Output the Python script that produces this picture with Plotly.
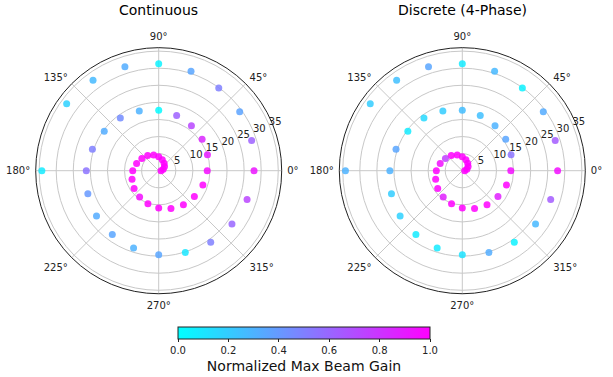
import plotly.graph_objects as go

# spiral positions (angle in degrees, radius) shared by both panels
theta = [0, 18, 36, 54, 72, 90, 108, 126, 144, 162,
         180, 198, 216, 234, 252, 270, 288, 306, 324, 342,
         360, 378, 396, 414, 432, 450, 468, 486, 504, 522,
         540, 558, 576, 594, 612, 630, 648, 666, 684, 702,
         720, 738, 756, 774, 792, 810, 828, 846, 864, 900]
radius = [0.7, 1.4, 2.1, 2.7, 3.4, 4.1, 4.8, 5.5, 6.1, 6.8,
          7.6, 8.2, 8.9, 9.5, 10.2, 10.9, 11.6, 12.3, 12.9, 13.6,
          14.2, 15.0, 15.7, 16.3, 17.0, 17.7, 18.4, 19.1, 19.7, 20.4,
          21.2, 21.8, 22.5, 23.1, 23.8, 24.6, 25.2, 25.9, 26.5, 27.2,
          27.9, 28.6, 29.3, 29.9, 30.6, 31.3, 32.0, 32.7, 33.3, 34.2]

gain_continuous = [1.0, 1.0, 1.0, 1.0, 1.0, 1.0, 1.0, 1.0, 1.0, 1.0,
                   1.0, 1.0, 1.0, 0.95, 1.0, 1.0, 1.0, 1.0, 1.0, 1.0,
                   0.96, 0.9, 0.85, 0.72, 0.62, 0.02, 0.3, 0.45, 0.32, 0.5,
                   0.55, 0.4, 0.33, 0.35, 0.3, 0.35, 0.1, 0.5, 0.6, 0.73,
                   0.92, 0.62, 0.36, 0.5, 0.35, 0.05, 0.32, 0.27, 0.18, 0.08]
gain_discrete = [1.0, 1.0, 1.0, 1.0, 1.0, 1.0, 1.0, 1.0, 0.75, 0.95,
                 1.0, 1.0, 1.0, 0.88, 1.0, 1.0, 1.0, 1.0, 0.88, 1.0,
                 0.96, 0.55, 0.35, 0.3, 0.25, 0.26, 0.2, 0.15, 0.08, 0.35,
                 0.3, 0.2, 0.18, 0.08, 0.08, 0.11, 0.32, 0.05, 0.28, 0.64,
                 0.95, 0.64, 0.33, 0.05, 0.28, 0.08, 0.35, 0.25, 0.2, 0.3]

titles = ["Continuous", "Discrete (4-Phase)"]
r_ticks = [5, 10, 15, 20, 25, 30, 35]
ang_ticks = [0, 45, 90, 135, 180, 225, 270, 315]
ang_labels = [f"{a}°" for a in ang_ticks]
cbar_ticks = [0.0, 0.2, 0.4, 0.6, 0.8, 1.0]

W, H = 613, 377
FONT = "DejaVu Sans"
SIZE = 246
CY = 170.7
centers = [158.7, 462.3]
R_MAX = 36

fig = go.Figure()
for i, g in enumerate([gain_continuous, gain_discrete]):
    fig.add_trace(go.Scatterpolar(
        r=radius, theta=theta, mode="markers",
        subplot="polar" if i == 0 else "polar2",
        marker=dict(size=7, color=g, coloraxis="coloraxis",
                    opacity=0.85, line=dict(width=0)),
        showlegend=False, hoverinfo="skip"))
# empty traces for the label-only overlay subplots (radial tick labels)
for sp in ["polar3", "polar4"]:
    fig.add_trace(go.Scatterpolar(r=[], theta=[], subplot=sp, showlegend=False,
                                  hoverinfo="skip", mode="markers"))

def dom(cx, cy):
    return dict(x=[(cx - SIZE / 2) / W, (cx + SIZE / 2) / W],
                y=[1 - (cy + SIZE / 2) / H, 1 - (cy - SIZE / 2) / H])

def polar_layout(cx):
    return dict(
        domain=dom(cx, CY),
        bgcolor="white",
        radialaxis=dict(range=[0, R_MAX], tickmode="array", tickvals=r_ticks,
                        showline=False, ticks="", showticklabels=False,
                        gridcolor="#c8c8c8", gridwidth=1, angle=22.5),
        angularaxis=dict(rotation=0, direction="counterclockwise",
                         tickmode="array", tickvals=ang_ticks, ticktext=ang_labels,
                         ticks="outside", ticklen=3, tickcolor="rgba(0,0,0,0)",
                         showline=True, linecolor="#222", linewidth=1,
                         gridcolor="#c8c8c8", gridwidth=1,
                         tickfont=dict(family=FONT, size=10, color="#222")),
    )

# offset of the label overlay (matplotlib puts radial labels left-aligned above the 22.5° line)
LDX, LDY = -2.5, -10.0

def label_layout(cx):
    return dict(
        domain=dom(cx + LDX, CY + LDY),
        bgcolor="rgba(0,0,0,0)",
        radialaxis=dict(range=[0, R_MAX], tickmode="array", tickvals=r_ticks,
                        showline=False, ticks="", showgrid=False,
                        angle=22.5, tickangle=22.5, side="clockwise",
                        tickfont=dict(family=FONT, size=10, color="#222")),
        angularaxis=dict(visible=False, showgrid=False, showline=False,
                         showticklabels=False, rotation=0),
    )

annotations = []
for t, cx in zip(titles, centers):
    annotations.append(dict(text=t, x=cx / W, y=1 - 10 / H, xref="paper", yref="paper",
                            xanchor="center", yanchor="middle", showarrow=False,
                            font=dict(family=FONT, size=14, color="black")))

fig.update_layout(
    width=W, height=H, margin=dict(l=0, r=0, t=0, b=0),
    paper_bgcolor="white", plot_bgcolor="white",
    font=dict(family=FONT, color="#222"),
    polar=polar_layout(centers[0]),
    polar2=polar_layout(centers[1]),
    polar3=label_layout(centers[0]),
    polar4=label_layout(centers[1]),
    annotations=annotations,
    coloraxis=dict(
        cmin=0, cmax=1,
        colorscale=[[0, "#00ffff"], [1, "#ff00ff"]],
        colorbar=dict(orientation="h", x=304 / W, xanchor="center",
                      y=1 - 327 / H, yanchor="top",
                      len=252, lenmode="pixels", thickness=12,
                      outlinecolor="#222", outlinewidth=1,
                      tickmode="array", tickvals=cbar_ticks,
                      ticktext=[f"{v:.1f}" for v in cbar_ticks],
                      ticks="outside", ticklen=3, tickcolor="#222",
                      tickfont=dict(family=FONT, size=10, color="#222"),
                      title=dict(text="Normalized Max Beam Gain", side="bottom",
                                 font=dict(family=FONT, size=14, color="#111")),
                      xpad=0, ypad=0),
    ),
)

fig.write_html("out.html")
